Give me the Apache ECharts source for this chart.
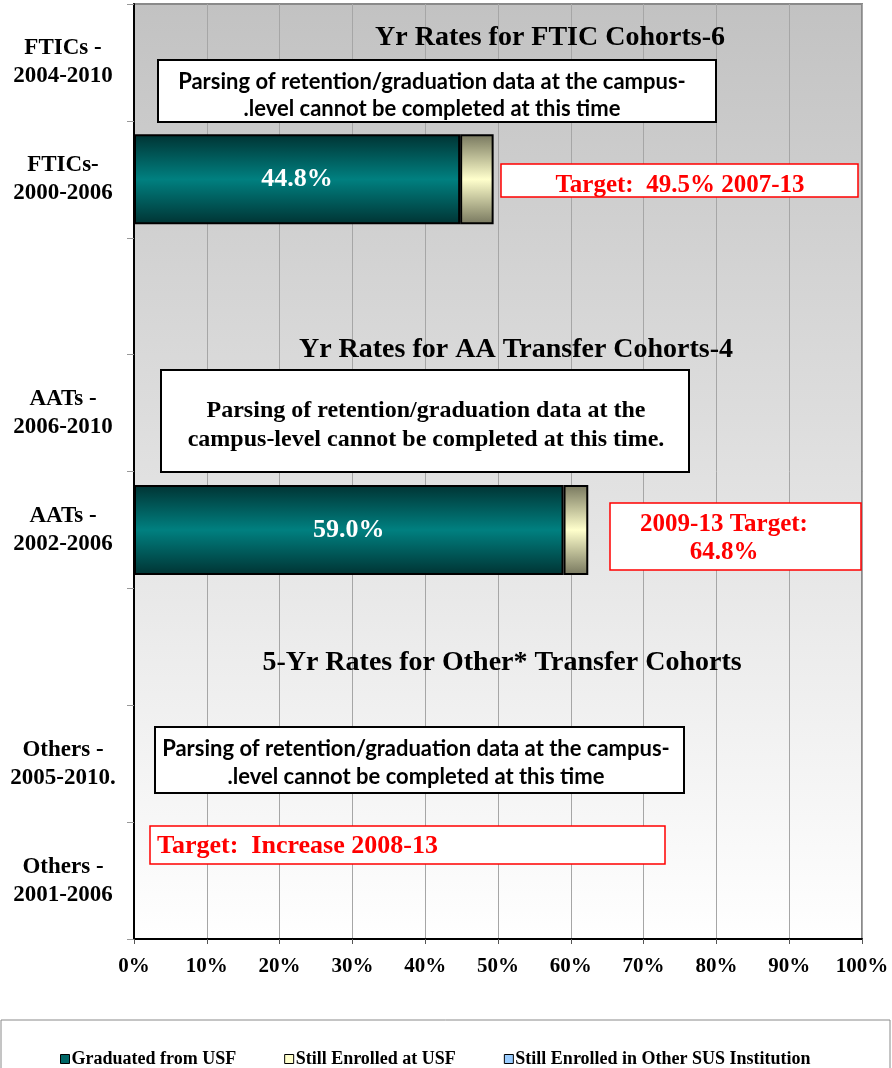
<!DOCTYPE html>
<html>
<head>
<meta charset="utf-8">
<script src="https://cdn.jsdelivr.net/npm/echarts@6/dist/echarts.min.js"></script>
<style>
html,body{margin:0;padding:0;background:#fff;}
#chart{width:892px;height:1068px;}
</style>
</head>
<body>
<div id="chart"></div>
<script>
const categories = ['FTICs -\n2004-2010', 'FTICs-\n2000-2006', ' ', 'AATs -\n2006-2010', 'AATs -\n2002-2006', '  ', 'Others -\n2005-2010.', 'Others -\n2001-2006'];
const graduatedUSF = [null, 44.8, null, null, 59.0, null, null, null];
const stillEnrolledUSF = [null, 4.6, null, null, 3.4, null, null, null];
const stillEnrolledOther = [null, null, null, null, null, null, null, null];
const seriesNames = ['Graduated from USF', 'Still Enrolled at USF', 'Still Enrolled in Other SUS Institution'];

const serif = '"Liberation Serif", "DejaVu Serif", serif';
const sans = 'Lato, "Open Sans", sans-serif';

function vgrad(edge, mid) {
  return {type:'linear', x:0, y:0, x2:0, y2:1, colorStops:[
    {offset:0, color:edge},{offset:0.5, color:mid},{offset:1, color:edge}]};
}

const chart = echarts.init(document.getElementById('chart'));
const option = {
  animation: false,
  backgroundColor: '#ffffff',
  grid: {
    left: 134, right: 30, top: 4, bottom: 129,
    show: true,
    backgroundColor: {type:'linear', x:0, y:0, x2:0, y2:1, colorStops:[
      {offset:0, color:'#c2c2c2'}, {offset:1, color:'#ffffff'}]},
    borderColor: '#8a8a8a', borderWidth: 2
  },
  xAxis: {
    type: 'value', min: 0, max: 100, interval: 10,
    axisLine: {show: true, lineStyle: {color: '#000', width: 2}},
    axisTick: {show: true, length: 5, lineStyle: {color: '#555'}},
    splitLine: {show: true, lineStyle: {color: '#a6a6a6', width: 1}},
    axisLabel: {formatter: '{value}%', color: '#000', fontFamily: serif, fontWeight: 'bold', fontSize: 21, margin: 17}
  },
  yAxis: {
    type: 'category', inverse: true, data: categories,
    axisLine: {show: true, lineStyle: {color: '#000', width: 2}},
    axisTick: {show: true, length: 7, lineStyle: {color: '#999'}},
    axisLabel: {color: '#000', fontFamily: serif, fontWeight: 'bold', fontSize: 23, lineHeight: 28, align: 'center', margin: 71}
  },
  legend: {
    left: 55, top: 1045, itemWidth: 9, itemHeight: 9, itemGap: 48, icon: 'rect',
    textStyle: {fontFamily: serif, fontWeight: 'bold', fontSize: 18, color: '#000', padding: [0,0,0,-3]},
    data: [
      {name: seriesNames[0], itemStyle: {color: '#006666', borderColor: '#000', borderWidth: 1}},
      {name: seriesNames[1], itemStyle: {color: '#ffffcc', borderColor: '#000', borderWidth: 1}},
      {name: seriesNames[2], itemStyle: {color: '#99ccff', borderColor: '#000', borderWidth: 1}}
    ]
  },
  series: [
    {
      name: seriesNames[0], type: 'bar', stack: 'total', barWidth: 90, data: graduatedUSF,
      itemStyle: {color: vgrad('#003333', '#008080'), borderColor: '#000', borderWidth: 2},
      label: {show: true, position: 'inside', color: '#fff', fontFamily: serif, fontWeight: 'bold', fontSize: 26,
        formatter: p => (p.value == null ? '' : p.value.toFixed(1) + '%')}
    },
    {
      name: seriesNames[1], type: 'bar', stack: 'total', barWidth: 90, data: stillEnrolledUSF,
      itemStyle: {color: vgrad('#77775e', '#ffffcc'), borderColor: '#000', borderWidth: 2}
    },
    {
      name: seriesNames[2], type: 'bar', stack: 'total', barWidth: 90, data: stillEnrolledOther,
      itemStyle: {color: '#99ccff', borderColor: '#000', borderWidth: 2}
    }
  ],
  graphic: [
    // legend box
    {type:'rect', z:50, shape:{x:1, y:1020, width:889, height:60}, style:{fill:'none', stroke:'#8a8a8a', lineWidth:1}},
    // section titles
    {type:'text', z:100, style:{text:'Yr Rates for FTIC Cohorts-6', x:550, y:38, textAlign:'center', textVerticalAlign:'middle', font:'bold 28px ' + serif, fill:'#000'}},
    {type:'text', z:100, style:{text:'Yr Rates for AA Transfer Cohorts-4', x:516, y:350, textAlign:'center', textVerticalAlign:'middle', font:'bold 28px ' + serif, fill:'#000'}},
    {type:'text', z:100, style:{text:'5-Yr Rates for Other* Transfer Cohorts', x:502, y:663, textAlign:'center', textVerticalAlign:'middle', font:'bold 28px ' + serif, fill:'#000'}},
    // box 1
    {type:'rect', z:100, shape:{x:158, y:60, width:558, height:62}, style:{fill:'#fff', stroke:'#000', lineWidth:2}},
    {type:'text', z:101, style:{text:'Parsing of retention/graduation data at the campus-\n.level cannot be completed at this time', x:432, y:95, textAlign:'center', textVerticalAlign:'middle', font:'bold 22px ' + sans, lineHeight:27, fill:'#000'}},
    // target 1
    {type:'rect', z:100, shape:{x:501, y:164, width:357, height:33}, style:{fill:'#fff', stroke:'#ff0000', lineWidth:1.5}},
    {type:'text', z:101, style:{text:'Target:  49.5% 2007-13', x:680, y:186, textAlign:'center', textVerticalAlign:'middle', font:'bold 25px ' + serif, fill:'#ff0000'}},
    // box 2
    {type:'rect', z:100, shape:{x:161, y:370, width:528, height:102}, style:{fill:'#fff', stroke:'#000', lineWidth:2}},
    {type:'text', z:101, style:{text:'Parsing of retention/graduation data at the\ncampus-level cannot be completed at this time.', x:426, y:425, textAlign:'center', textVerticalAlign:'middle', font:'bold 24px ' + serif, lineHeight:29, fill:'#000'}},
    // target 2
    {type:'rect', z:100, shape:{x:610, y:503, width:251, height:67}, style:{fill:'#fff', stroke:'#ff0000', lineWidth:1.5}},
    {type:'text', z:101, style:{text:'2009-13 Target:\n64.8%', x:724, y:539, textAlign:'center', textVerticalAlign:'middle', font:'bold 25px ' + serif, lineHeight:28, fill:'#ff0000'}},
    // box 3
    {type:'rect', z:100, shape:{x:155, y:727, width:529, height:66}, style:{fill:'#fff', stroke:'#000', lineWidth:2}},
    {type:'text', z:101, style:{text:'Parsing of retention/graduation data at the campus-\n.level cannot be completed at this time', x:416, y:763, textAlign:'center', textVerticalAlign:'middle', font:'bold 22px ' + sans, lineHeight:28, fill:'#000'}},
    // target 3
    {type:'rect', z:100, shape:{x:150, y:826, width:515, height:38}, style:{fill:'#fff', stroke:'#ff0000', lineWidth:1.5}},
    {type:'text', z:101, style:{text:'Target:  Increase 2008-13', x:157, y:846, textAlign:'left', textVerticalAlign:'middle', font:'bold 26px ' + serif, fill:'#ff0000'}}
  ]
};
chart.setOption(option);
</script>
</body>
</html>
